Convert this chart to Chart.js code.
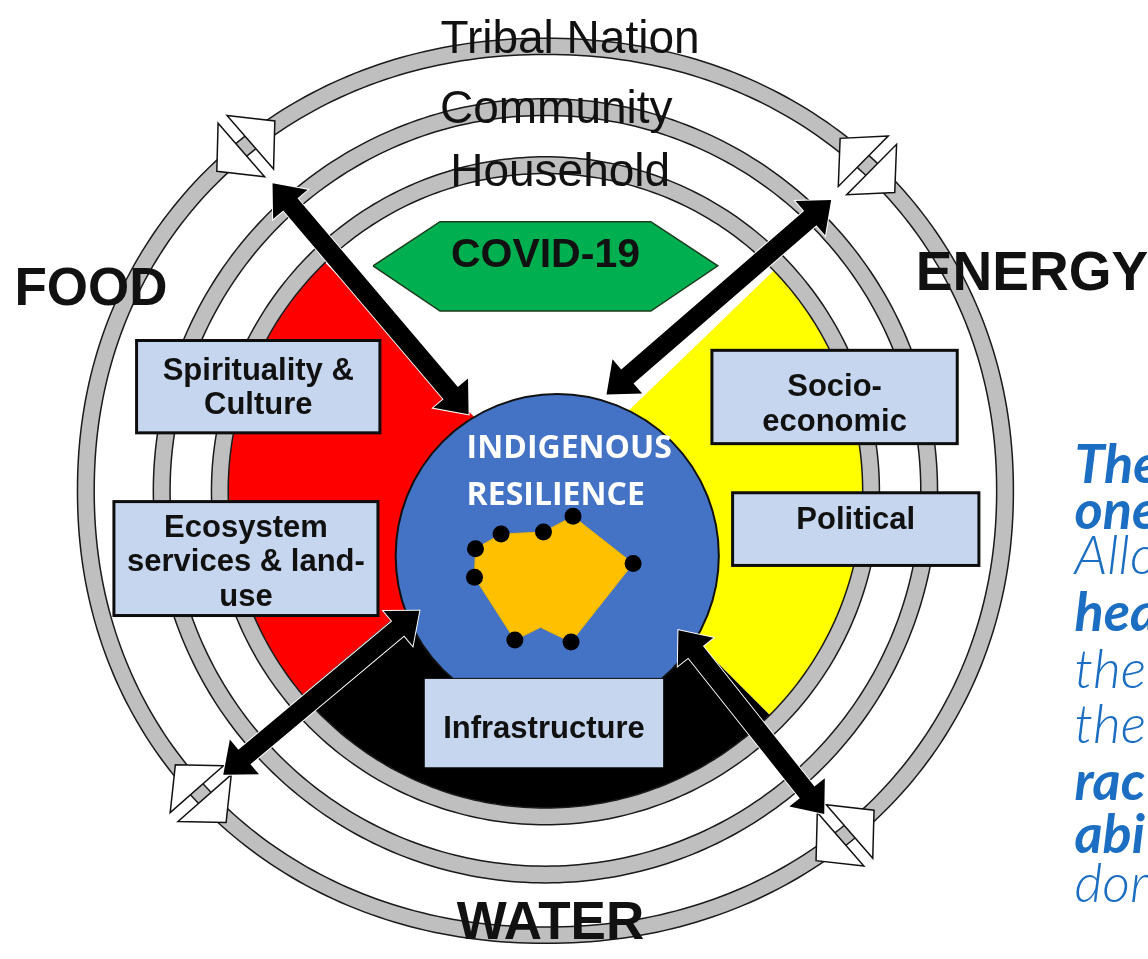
<!DOCTYPE html>
<html lang="en">
<head>
  <meta charset="UTF-8">
  <title>Indigenous Resilience</title>
  <script src="https://cdn.jsdelivr.net/npm/chart.js@4.4.5/dist/chart.umd.min.js"></script>
  <style>
    html, body { margin: 0; padding: 0; background: #fff; }
    #wrap { width: 1148px; height: 959px; position: relative; }
  </style>
</head>
<body>
<div id="wrap"><canvas id="wheel"></canvas></div>
<script>
// ---- data (diagram units, one unit = one pixel of the original) ----
const wheelX = 545, wheelY = 491;
const ringNames = ['Tribal Nation', 'Community', 'Household'];
const ringInner = [458, 381, 322];
const ringOuter = [475, 398, 339];
const ringSquash = [0.967, 1, 1];   // vertical / horizontal radius
const ringPower = [2.08, 2, 2];     // superellipse exponent (2 = ellipse)

// medicine wheel quadrants, degrees anticlockwise from east
const quadNames = ['ENERGY', 'COVID-19', 'FOOD', 'WATER'];
const quadStart = [-45, 44, 134, 220];
const quadEnd = [44, 134, 220, 315];

// resilience shape inside the blue circle
const resX = [474, 500, 543, 573, 634, 571, 540, 514, 473, 474];
const resY = [550, 535, 533, 517, 565, 645, 630, 643, 579, 550];
const resDot = [1, 1, 1, 1, 1, 1, 0, 1, 1, 0];

// COVID-19 hexagon
const covidX = [370, 438, 652, 720, 652, 438, 370];
const covidY = [262, 217, 217, 262, 308, 308, 262];

// the four double arrows (inner tip -> outer tip)
const arrowInX = [467, 607, 417, 680];
const arrowInY = [413, 393, 613, 633];
const arrowOutX = [268, 835, 218, 828];
const arrowOutY = [178, 195, 780, 820];

// where the outer ring is split by the white arrow heads
const splitAngles = [131, 45.3, 221.3, 311];

const factorLabels = [
  ['Spirituality &', 'Culture'],
  ['Ecosystem', 'services & land-', 'use'],
  ['Socio-', 'economic'],
  ['Political'],
  ['Infrastructure']
];
const sideLines = ['The', 'one', 'Allo', 'hea', 'the', 'the', 'rac', 'abi', 'dor'];
const sideBold = [true, true, false, true, false, false, true, true, false];

// ---- layout / style ----
const quadColours = ['#ffff00', '#ffffff', '#ff0000', '#000000'];
const boxLayout = [
  { x0: 130, y0: 338, x1: 377, y1: 432, base: 378, lw: 3 },
  { x0: 107, y0: 502, x1: 375, y1: 618, base: 538, lw: 3 },
  { x0: 714, y0: 348, x1: 963, y1: 443, base: 395, lw: 3 },
  { x0: 735, y0: 493, x1: 985, y1: 567, base: 530, lw: 3 },
  { x0: 422, y0: 682, x1: 665, y1: 773, base: 743, lw: 1 }
];
const ringLabelPos = [[570, 45], [556, 117], [560, 181]];
const nexusPos = { FOOD: [6, 302, 53], ENERGY: [921, 287, 55], WATER: [455, 947, 53] };
const sideBase = [483, 530, 576, 634, 692, 748, 806, 860, 910];

// superellipse outline, optionally traced backwards
function ringPath(ctx, cx, cy, a, b, n, back) {
  for (let k = 0; k <= 360; k++) {
    const t = (back ? -k : k) * Math.PI / 180;
    const c = Math.cos(t), s = Math.sin(t);
    const X = cx + a * Math.sign(c) * Math.pow(Math.abs(c), 2 / n);
    const Y = cy - b * Math.sign(s) * Math.pow(Math.abs(s), 2 / n);
    if (k) ctx.lineTo(X, Y); else ctx.moveTo(X, Y);
  }
  ctx.closePath();
}
function ringRadius(theta, a, b, n) {
  const c = Math.abs(Math.cos(theta)), s = Math.abs(Math.sin(theta));
  return 1 / Math.pow(Math.pow(c / a, n) + Math.pow(s / b, n), 1 / n);
}

const diagram = {
  id: 'diagram',
  beforeDatasetsDraw(chart) {
    const { ctx, scales: { x, y } } = chart;
    const px = v => x.getPixelForValue(v);
    const py = v => y.getPixelForValue(v);
    const u = px(1) - px(0);
    const cx = px(wheelX), cy = py(wheelY);
    ctx.save();
    // quadrants
    quadStart.forEach((a, i) => {
      ctx.beginPath();
      ctx.moveTo(cx, cy);
      ctx.arc(cx, cy, ringInner[2] * u, -a * Math.PI / 180, -quadEnd[i] * Math.PI / 180, true);
      ctx.closePath();
      ctx.fillStyle = quadColours[i];
      ctx.fill();
    });
    // grey rings
    ringInner.forEach((r0, i) => {
      const r1 = ringOuter[i], k = ringSquash[i], n = ringPower[i];
      ctx.beginPath();
      ringPath(ctx, cx, cy, r1 * u, r1 * k * u, n, false);
      ringPath(ctx, cx, cy, r0 * u, r0 * k * u, n, true);
      ctx.fillStyle = '#bfbfbf';
      ctx.fill('evenodd');
      ctx.lineWidth = 1.5;
      ctx.strokeStyle = '#1a1a1a';
      ctx.beginPath(); ringPath(ctx, cx, cy, r1 * u, r1 * k * u, n, false); ctx.stroke();
      ctx.beginPath(); ringPath(ctx, cx, cy, r0 * u, r0 * k * u, n, false); ctx.stroke();
    });
    // blue core
    ctx.beginPath();
    ctx.arc(px(557), py(557), 164 * u, 0, Math.PI * 2);
    ctx.fillStyle = '#4472c4';
    ctx.fill();
    ctx.lineWidth = 2;
    ctx.strokeStyle = '#111';
    ctx.stroke();
    ctx.restore();
  },
  afterDatasetsDraw(chart) {
    const { ctx, scales: { x, y } } = chart;
    const px = v => x.getPixelForValue(v);
    const py = v => y.getPixelForValue(v);
    const u = px(1) - px(0);
    const cx = px(wheelX), cy = py(wheelY);
    ctx.save();

    // white split arrow heads on the outer ring
    const am = (ringInner[0] + ringOuter[0]) / 2;
    splitAngles.forEach(deg => {
      const a = deg * Math.PI / 180;
      const rm = ringRadius(a, am, am * ringSquash[0], ringPower[0]) * u;
      const P = [cx + rm * Math.cos(a), cy - rm * Math.sin(a)];
      const t = [-Math.sin(a), -Math.cos(a)];
      const n = [Math.cos(a), -Math.sin(a)];
      [1, -1].forEach(s => {
        const b = [P[0] + s * t[0] * 6 * u, P[1] + s * t[1] * 6 * u];
        ctx.beginPath();
        ctx.moveTo(b[0] + n[0] * 36 * u, b[1] + n[1] * 36 * u);
        ctx.lineTo(b[0] + s * t[0] * 33 * u, b[1] + s * t[1] * 33 * u);
        ctx.lineTo(b[0] - n[0] * 36 * u, b[1] - n[1] * 36 * u);
        ctx.closePath();
        ctx.fillStyle = '#fff';
        ctx.fill();
        ctx.lineWidth = 1.5;
        ctx.strokeStyle = '#111';
        ctx.stroke();
      });
    });

    // black double arrows
    arrowInX.forEach((_, i) => {
      const x1 = px(arrowInX[i]), y1 = py(arrowInY[i]);
      const x2 = px(arrowOutX[i]), y2 = py(arrowOutY[i]);
      const L = Math.hypot(x2 - x1, y2 - y1);
      const d = [(x2 - x1) / L, (y2 - y1) / L];
      const n = [-d[1], d[0]];
      const hl = 28 * u, hw = 23 * u, sw = 9.5 * u;
      const pt = (bx, by, along, side) => [bx + d[0] * along + n[0] * side, by + d[1] * along + n[1] * side];
      const pts = [
        [x1, y1],
        pt(x1, y1, hl, hw), pt(x1, y1, hl, sw),
        pt(x2, y2, -hl, sw), pt(x2, y2, -hl, hw),
        [x2, y2],
        pt(x2, y2, -hl, -hw), pt(x2, y2, -hl, -sw),
        pt(x1, y1, hl, -sw), pt(x1, y1, hl, -hw)
      ];
      ctx.beginPath();
      pts.forEach((p, k) => k ? ctx.lineTo(p[0], p[1]) : ctx.moveTo(p[0], p[1]));
      ctx.closePath();
      ctx.lineJoin = 'miter';
      ctx.lineWidth = 2;
      ctx.strokeStyle = '#fff';
      ctx.stroke();
      ctx.fillStyle = '#000';
      ctx.fill();
    });

    // factor boxes
    boxLayout.forEach((b, i) => {
      ctx.fillStyle = '#c6d6ee';
      ctx.fillRect(px(b.x0), py(b.y0), px(b.x1) - px(b.x0), py(b.y1) - py(b.y0));
      ctx.lineWidth = b.lw;
      ctx.strokeStyle = '#0d0d0d';
      ctx.strokeRect(px(b.x0), py(b.y0), px(b.x1) - px(b.x0), py(b.y1) - py(b.y0));
      ctx.fillStyle = '#111';
      ctx.font = 'bold 31px "Liberation Sans", Arial, sans-serif';
      ctx.textAlign = 'center';
      ctx.textBaseline = 'alphabetic';
      factorLabels[i].forEach((line, k) => {
        ctx.fillText(line, px((b.x0 + b.x1) / 2), py(b.base + k * 35));
      });
    });

    // ring names
    ctx.font = '46px "Liberation Sans", Arial, sans-serif';
    ctx.fillStyle = '#111';
    ctx.textAlign = 'center';
    ringNames.forEach((name, i) => {
      ctx.fillText(name, px(ringLabelPos[i][0]), py(ringLabelPos[i][1]));
    });

    // COVID-19
    ctx.font = 'bold 41px "Liberation Sans", Arial, sans-serif';
    ctx.fillText(quadNames[1], px(545), py(263));

    // nexus words
    ctx.textAlign = 'left';
    ['FOOD', 'ENERGY', 'WATER'].forEach(w => {
      ctx.font = 'bold ' + nexusPos[w][2] + 'px "Liberation Sans", Arial, sans-serif';
      ctx.fillText(w, px(nexusPos[w][0]), py(nexusPos[w][1]));
    });

    // centre title
    ctx.fillStyle = '#fff';
    ctx.font = 'bold 32px "Open Sans", sans-serif';
    ctx.fillText('INDIGENOUS', px(465), py(458));
    ctx.fillText('RESILIENCE', px(465), py(505));

    // side text (cut off at the right edge)
    ctx.fillStyle = '#1b6ec1';
    sideLines.forEach((s, i) => {
      ctx.font = (sideBold[i] ? 'italic 700 ' : 'italic 300 ') + '54px Lato, "Open Sans", sans-serif';
      ctx.fillText(s, px(1082), py(sideBase[i]));
    });
    ctx.restore();
  }
};

new Chart(document.getElementById('wheel'), {
  type: 'scatter',
  data: {
    datasets: [
      {
        label: 'Resilience',
        data: resX.map((v, i) => ({ x: v, y: resY[i] })),
        showLine: true,
        tension: 0,
        fill: 'shape',
        backgroundColor: '#ffc000',
        borderColor: '#f0b400',
        borderWidth: 1,
        pointRadius: resDot.map(d => d ? 8.5 : 0),
        pointBackgroundColor: '#000',
        pointBorderWidth: 0
      },
      {
        label: 'COVID-19',
        data: covidX.map((v, i) => ({ x: v, y: covidY[i] })),
        showLine: true,
        tension: 0,
        fill: 'shape',
        backgroundColor: '#00b050',
        borderColor: '#1c3a1c',
        borderWidth: 1.5,
        pointRadius: 0
      }
    ]
  },
  options: {
    responsive: true,
    maintainAspectRatio: false,
    animation: false,
    events: [],
    layout: { padding: 0 },
    plugins: { legend: { display: false }, tooltip: { enabled: false } },
    scales: {
      x: { type: 'linear', min: 0, max: 1148, display: false },
      y: { type: 'linear', min: 0, max: 959, reverse: true, display: false }
    }
  },
  plugins: [diagram]
});
</script>
</body>
</html>
